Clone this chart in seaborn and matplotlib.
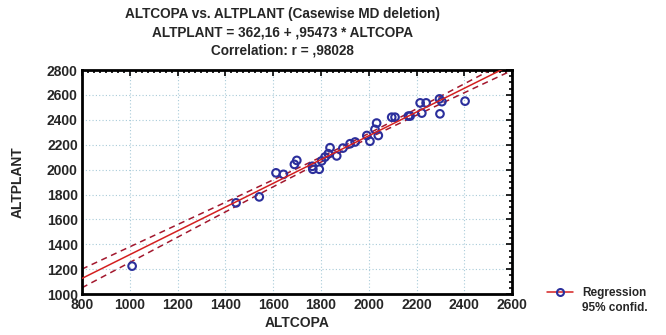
import numpy as np
import pandas as pd
import seaborn as sns
import matplotlib.pyplot as plt
from matplotlib.ticker import MultipleLocator
from matplotlib.lines import Line2D

sns.set_style("white")
plt.rcParams["font.family"] = ["Liberation Sans", "DejaVu Sans"]
plt.rcParams["font.weight"] = "bold"

# ===================== DATA =====================
altcopa = [1010, 1445, 1542, 1612, 1643, 1689, 1699, 1764, 1766, 1793,
           1803, 1817, 1831, 1838, 1866, 1892, 1922, 1943, 1992, 2005,
           2026, 2033, 2040, 2096, 2110, 2166, 2173, 2215, 2222, 2240,
           2296, 2298, 2306, 2403]
altplant = [1225, 1733, 1781, 1974, 1962, 2042, 2074, 2027, 2003, 2003,
            2070, 2101, 2128, 2176, 2110, 2173, 2208, 2222, 2274, 2228,
            2323, 2374, 2274, 2421, 2421, 2430, 2430, 2536, 2454, 2536,
            2568, 2448, 2546, 2550]

intercept = 362.16
slope = 0.95473
r_value = 0.98028

x_ticks = [800, 1000, 1200, 1400, 1600, 1800, 2000, 2200, 2400, 2600]
y_ticks = [1000, 1200, 1400, 1600, 1800, 2000, 2200, 2400, 2600, 2800]

df = pd.DataFrame({"ALTCOPA": altcopa, "ALTPLANT": altplant})

# ===================== FIT + 95% CONFIDENCE =====================
x = df["ALTCOPA"].to_numpy(float)
y = df["ALTPLANT"].to_numpy(float)
n = len(x)
resid = y - (intercept + slope * x)
s = np.sqrt(np.sum(resid ** 2) / (n - 2))
sxx = np.sum((x - x.mean()) ** 2)
t_crit = 2.037

grid_x = np.linspace(800, 2600, 200)
fit = intercept + slope * grid_x
half = t_crit * s * np.sqrt(1 / n + (grid_x - x.mean()) ** 2 / sxx)
lines = pd.DataFrame({"x": grid_x, "fit": fit, "lo": fit - half, "hi": fit + half})

# ===================== PLOT =====================
fig = plt.figure(figsize=(6.66, 3.35), dpi=100)
ax = fig.add_axes([0.123, 0.122, 0.646, 0.669])

ax.grid(True, which="major", color="#a9cbd9", linestyle=(0, (1, 2)), linewidth=0.8)

sns.lineplot(data=lines, x="x", y="lo", ax=ax, color="#a3182e",
             linestyle=(0, (4, 3)), linewidth=1.1)
sns.lineplot(data=lines, x="x", y="hi", ax=ax, color="#a3182e",
             linestyle=(0, (4, 3)), linewidth=1.1)
sns.scatterplot(data=df, x="ALTCOPA", y="ALTPLANT", ax=ax, marker="o",
                s=30, facecolor="none", edgecolor="#2b2f9c", linewidth=1.5,
                zorder=3)
sns.lineplot(data=lines, x="x", y="fit", ax=ax, color="#d42020",
             linewidth=1.1, zorder=4)

ax.set_xlim(800, 2600)
ax.set_ylim(1000, 2800)
ax.set_xticks(x_ticks)
ax.set_yticks(y_ticks)
ax.xaxis.set_minor_locator(MultipleLocator(25))
ax.yaxis.set_minor_locator(MultipleLocator(50))
ax.tick_params(which="both", direction="in", top=True, right=True,
               labelsize=10, width=1.2, color="black")
ax.tick_params(which="major", length=4, pad=3)
ax.tick_params(which="minor", length=2)
for lab in ax.get_xticklabels() + ax.get_yticklabels():
    lab.set_fontweight("bold")
for sp in ax.spines.values():
    sp.set_linewidth(2)
    sp.set_color("black")

ax.set_xlabel("ALTCOPA", fontsize=10, fontweight="bold", labelpad=3)
ax.set_ylabel("ALTPLANT", fontsize=10, fontweight="bold", labelpad=16)

title_x = 0.424
fig.text(title_x, 0.958, "ALTCOPA vs. ALTPLANT (Casewise MD deletion)",
         ha="center", va="center", fontsize=9.8, fontweight="bold")
fig.text(title_x, 0.904, "ALTPLANT = 362,16 + ,95473 * ALTCOPA",
         ha="center", va="center", fontsize=9.8, fontweight="bold")
fig.text(title_x, 0.850, "Correlation: r = ,98028",
         ha="center", va="center", fontsize=9.8, fontweight="bold")

handles = [
    Line2D([], [], color="#d42020", linewidth=1.1, marker="o",
           markerfacecolor="none", markeredgecolor="#2b2f9c", markersize=5,
           markeredgewidth=1.5),
    Line2D([], [], linestyle="none"),
]
fig.legend(handles, ["Regression", "95% confid."], loc="upper left",
           bbox_to_anchor=(0.805, 0.175), frameon=False,
           handlelength=2.2, labelspacing=0.25, prop={"weight": "bold", "size": 8.5})

fig.savefig("out.png", dpi=100)
